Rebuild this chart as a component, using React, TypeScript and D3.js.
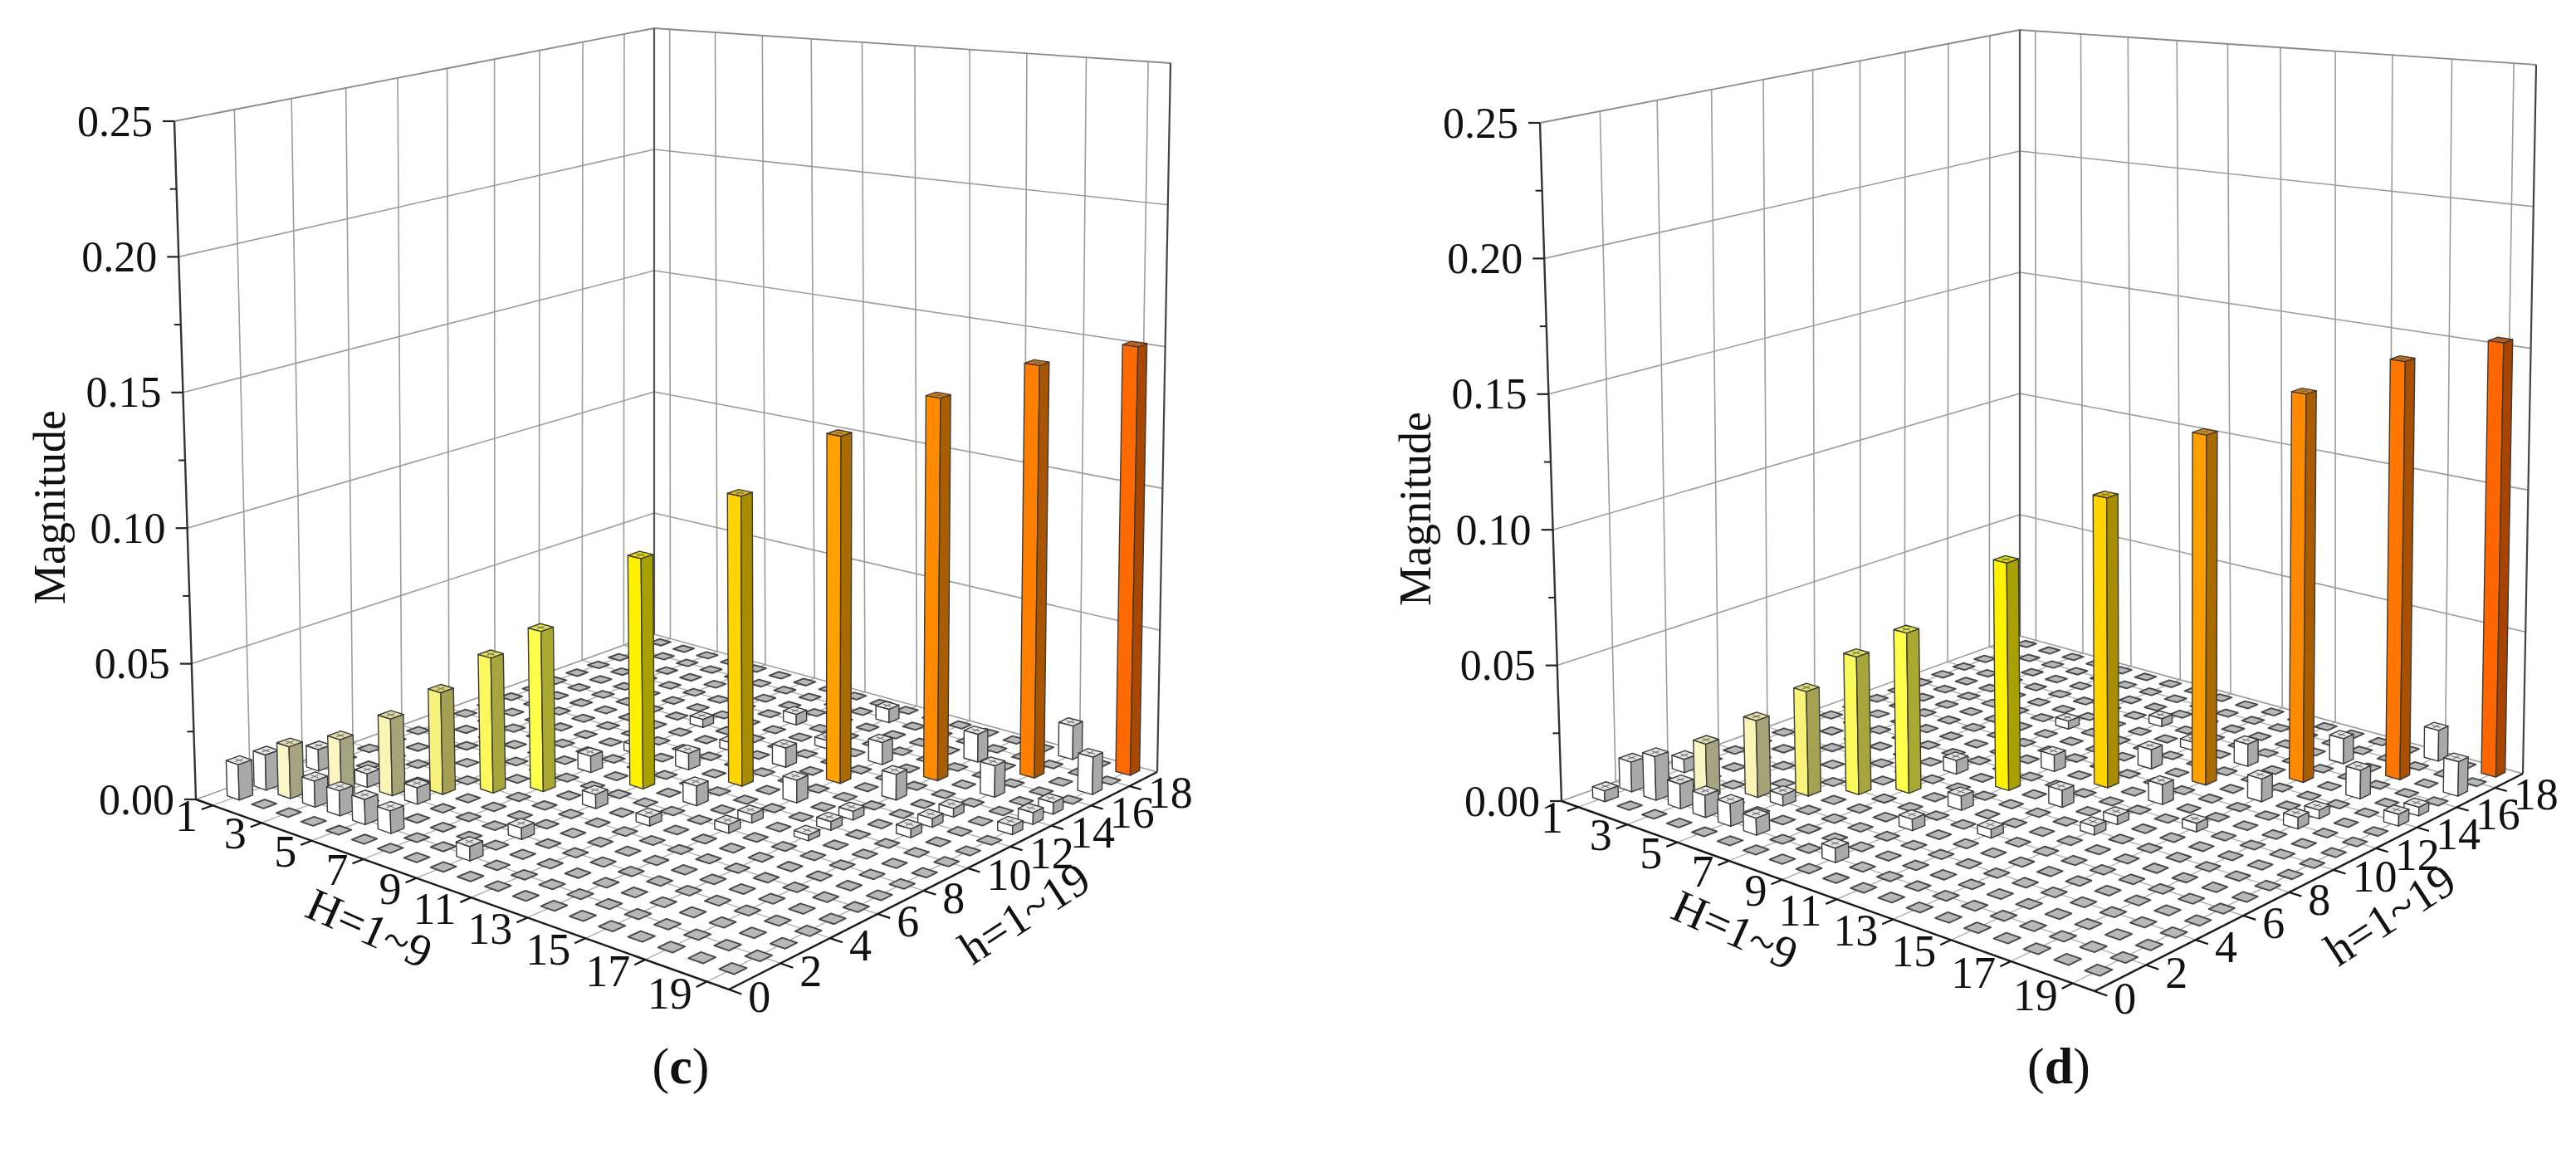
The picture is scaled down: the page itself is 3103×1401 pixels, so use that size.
import React from 'react';
import * as d3 from 'd3';

const WIDTH = 3103;
const HEIGHT = 1401;

// axis domains
const H_DOMAIN = [0.3, 19.7];
const h_DOMAIN = [0, 19.5];
const Z_DOMAIN = [0, 0.25];

const zMajor = [0, 0.05, 0.1, 0.15, 0.2, 0.25];
const zMinor = [0.025, 0.075, 0.125, 0.175, 0.225];
const HTicks = [1, 3, 5, 7, 9, 11, 13, 15, 17, 19];
const hTicks = [0, 2, 4, 6, 8, 10, 12, 14, 16, 18];
const hWallLines = [2, 4, 6, 8, 10, 12, 14, 16, 18];
const HCells = d3.range(1, 20);
const hCells = d3.range(1, 20);

// panel (c): diagonal bars
const cMainH = [1, 1, 2, 3, 4, 5, 6, 7, 9, 11, 13, 15, 17, 19];
const cMainh = [1, 2, 2, 3, 4, 5, 6, 7, 9, 11, 13, 15, 17, 19];
const cMainV = [0.013, 0.013, 0.019, 0.021, 0.028, 0.037, 0.049, 0.058, 0.083, 0.104, 0.124, 0.136, 0.146, 0.151];
// panel (c): small side bars
const cSmallH = [1, 3, 4, 5, 6, 5, 3, 9, 9, 7, 9, 11, 13, 15, 17, 9, 11, 13, 15, 17, 19, 9, 11, 9, 7, 11, 13, 15, 17, 19, 13, 15, 17, 19, 7, 11, 17, 19, 15];
const cSmallh = [4, 2, 2, 2, 2, 4, 4, 2, 4, 9, 11, 13, 15, 17, 19, 7, 9, 11, 13, 15, 17, 16, 18, 13, 11, 7, 9, 11, 13, 15, 8, 10, 12, 14, 14, 15, 11, 13, 9];
const cSmallV = [0.008, 0.0095, 0.009, 0.009, 0.008, 0.006, 0.005, 0.005, 0.004, 0.006, 0.006, 0.007, 0.008, 0.01, 0.012, 0.005, 0.007, 0.008, 0.009, 0.011, 0.013, 0.004, 0.005, 0.003, 0.003, 0.003, 0.003, 0.003, 0.003, 0.004, 0.003, 0.003, 0.003, 0.004, 0.003, 0.003, 0.003, 0.003, 0.002];

// panel (d): diagonal bars
const dMainH = [1, 1, 2, 3, 4, 5, 6, 7, 9, 11, 13, 15, 17, 19];
const dMainh = [1, 2, 2, 3, 4, 5, 6, 7, 9, 11, 13, 15, 17, 19];
const dMainV = [0.004, 0.011, 0.016, 0.02, 0.028, 0.038, 0.05, 0.058, 0.082, 0.104, 0.125, 0.138, 0.148, 0.153];
// panel (d): small side bars
const dSmallH = [1, 3, 4, 5, 6, 5, 9, 9, 7, 9, 11, 13, 15, 17, 9, 11, 13, 15, 17, 19, 9, 11, 13, 15, 17, 19, 13, 7, 11, 17, 19];
const dSmallh = [4, 2, 2, 2, 2, 4, 2, 5, 9, 11, 13, 15, 17, 19, 7, 9, 11, 13, 15, 17, 16, 6, 8, 10, 12, 14, 9, 14, 15, 13, 15];
const dSmallV = [0.005, 0.009, 0.008, 0.008, 0.006, 0.004, 0.005, 0.004, 0.005, 0.006, 0.007, 0.008, 0.009, 0.011, 0.005, 0.006, 0.007, 0.008, 0.01, 0.012, 0.003, 0.003, 0.003, 0.003, 0.004, 0.004, 0.003, 0.003, 0.003, 0.003, 0.003];

const colorStops = [0, 0.017, 0.018, 0.028, 0.037, 0.049, 0.058, 0.083, 0.104, 0.124, 0.136, 0.146, 0.152];
const colorRange = ['#ffffff', '#ffffff', '#faf6c8', '#faf5b4', '#f8f37e', '#fbf95e', '#ffff4c', '#fff200', '#ffd400', '#ffa200', '#ff8c00', '#ff8000', '#ff6600'];

// screen corners of the box for panel (c): floor L, F, R, B and the same at the top
const floorCorners = [[236, 963], [878, 1192], [1394, 930], [788, 764]];
const topCorners = [[210, 146], [874, 232], [1410, 76], [788, 34]];

const FONT = 'Liberation Serif, Times New Roman, serif';

function squareToQuad(q: number[][]) {
  const [x0, y0] = q[0];
  const [x1, y1] = q[1];
  const [x2, y2] = q[2];
  const [x3, y3] = q[3];
  const dx1 = x1 - x2, dx2 = x3 - x2, dx3 = x0 - x1 + x2 - x3;
  const dy1 = y1 - y2, dy2 = y3 - y2, dy3 = y0 - y1 + y2 - y3;
  const den = dx1 * dy2 - dx2 * dy1;
  const g = (dx3 * dy2 - dx2 * dy3) / den;
  const h = (dx1 * dy3 - dx3 * dy1) / den;
  const a = x1 - x0 + g * x1, b = x3 - x0 + h * x3, c = x0;
  const d = y1 - y0 + g * y1, e = y3 - y0 + h * y3, f = y0;
  return (u: number, v: number) => {
    const w = g * u + h * v + 1;
    return [(a * u + b * v + c) / w, (d * u + e * v + f) / w];
  };
}

interface PanelProps {
  mainH: number[];
  mainh: number[];
  mainV: number[];
  smallH: number[];
  smallh: number[];
  smallV: number[];
  dx: number;
  dy: number;
  letter: string;
  letterX: number;
}

const Panel = ({ mainH, mainh, mainV, smallH, smallh, smallV, dx, dy, letter, letterX }: PanelProps) => {
  const shift = (p: number[]) => [p[0] + dx, p[1] + dy];
  const floorQ = squareToQuad(floorCorners.map(shift));
  const topQ = squareToQuad(topCorners.map(shift));
  const u = d3.scaleLinear().domain(H_DOMAIN).range([0, 1]);
  const v = d3.scaleLinear().domain(h_DOMAIN).range([0, 1]);
  const t = d3.scaleLinear().domain(Z_DOMAIN).range([0, 1]);
  const color = d3.scaleLinear<string>().domain(colorStops).range(colorRange).clamp(true);

  const P = (H: number, h: number, z: number): [number, number] => {
    const a = floorQ(u(H), v(h));
    const b = topQ(u(H), v(h));
    const k = t(z);
    return [a[0] + (b[0] - a[0]) * k, a[1] + (b[1] - a[1]) * k];
  };
  const line = d3.line();
  const poly = (pts: [number, number][]) => line(pts) + 'Z';

  const [H0, H1] = H_DOMAIN;
  const [h0, h1] = h_DOMAIN;
  const zTop = Z_DOMAIN[1];

  // bar values on the grid
  const values = new Map<string, number>();
  mainH.forEach((H, i) => values.set(`${H},${mainh[i]}`, mainV[i]));
  smallH.forEach((H, i) => values.set(`${H},${smallh[i]}`, smallV[i]));

  const cells: { H: number; h: number; val: number }[] = [];
  HCells.forEach((H) => hCells.forEach((h) => cells.push({ H, h, val: values.get(`${H},${h}`) || 0 })));
  const flat = cells.filter((c) => c.val === 0);
  const raised = cells.filter((c) => c.val > 0).sort((a, b) => (a.H - a.h) - (b.H - b.h) || a.H - b.H);

  const wallColor = '#9c9c9c';
  const floorLine = '#b0b0b0';
  const w = 0.25;
  const wf = 0.24;

  const axisBottom = P(H0, h0, 0);

  return (
    <g>
      {/* left wall */}
      {hWallLines.map((h) => (
        <path key={`lw${h}`} d={line([P(H0, h, 0), P(H0, h, zTop)])!} stroke={wallColor} strokeWidth={1.6} fill="none" />
      ))}
      {zMajor.slice(1, -1).map((z) => (
        <path key={`lz${z}`} d={line([P(H0, h0, z), P(H0, h1, z)])!} stroke={wallColor} strokeWidth={1.6} fill="none" />
      ))}
      {/* right wall */}
      {HTicks.map((H) => (
        <path key={`rw${H}`} d={line([P(H, h1, 0), P(H, h1, zTop)])!} stroke={wallColor} strokeWidth={1.6} fill="none" />
      ))}
      {zMajor.slice(1, -1).map((z) => (
        <path key={`rz${z}`} d={line([P(H0, h1, z), P(H1, h1, z)])!} stroke={wallColor} strokeWidth={1.6} fill="none" />
      ))}
      {/* floor grid */}
      {HTicks.map((H) => (
        <path key={`fH${H}`} d={line([P(H, h0, 0), P(H, h1, 0)])!} stroke={floorLine} strokeWidth={1.4} fill="none" />
      ))}
      {hWallLines.map((h) => (
        <path key={`fh${h}`} d={line([P(H0, h, 0), P(H1, h, 0)])!} stroke={floorLine} strokeWidth={1.4} fill="none" />
      ))}
      {/* box edges */}
      <path d={line([P(H0, h0, zTop), P(H0, h1, zTop), P(H1, h1, zTop)])!} stroke="#8a8a8a" strokeWidth={1.8} fill="none" />
      <path d={line([P(H0, h0, 0), P(H0, h1, 0), P(H1, h1, 0)])!} stroke="#9a9a9a" strokeWidth={1.6} fill="none" />
      <path d={line([P(H0, h1, 0), P(H0, h1, zTop)])!} stroke="#555" strokeWidth={2.2} fill="none" />
      <path d={line([P(H1, h1, 0), P(H1, h1, zTop)])!} stroke="#444" strokeWidth={2.2} fill="none" />

      {/* flat bars */}
      {flat.map((c) => (
        <path
          key={`f${c.H}-${c.h}`}
          d={poly([P(c.H - wf, c.h - wf, 0), P(c.H + wf, c.h - wf, 0), P(c.H + wf, c.h + wf, 0), P(c.H - wf, c.h + wf, 0)])}
          fill="#b8b8b8"
          stroke="#484848"
          strokeWidth={1.9}
          strokeLinejoin="round"
        />
      ))}
      {/* raised bars, back to front */}
      {raised.map((c) => {
        const base = d3.color(color(c.val))!;
        const side = base.darker(1.15).formatHex();
        const top = base.darker(0.3).formatHex();
        const { H, h, val } = c;
        return (
          <g key={`b${H}-${h}`} stroke="#3a3a3a" strokeWidth={1.4} strokeLinejoin="round">
            <path d={poly([P(H - w, h - w, 0), P(H + w, h - w, 0), P(H + w, h - w, val), P(H - w, h - w, val)])} fill={base.formatHex()} />
            <path d={poly([P(H + w, h - w, 0), P(H + w, h + w, 0), P(H + w, h + w, val), P(H + w, h - w, val)])} fill={side} />
            <path d={poly([P(H - w, h - w, val), P(H + w, h - w, val), P(H + w, h + w, val), P(H - w, h + w, val)])} fill={top} />
            <path
              d={`${line([P(H - w * 0.6, h, val), P(H + w * 0.6, h, val)])}${line([P(H, h - w * 0.6, val), P(H, h + w * 0.6, val)])}`}
              stroke="#6a6a6a"
              strokeWidth={1}
              fill="none"
            />
          </g>
        );
      })}

      {/* axes */}
      <path d={line([P(H0, h0, 0), P(H0, h0, zTop)])!} stroke="#333" strokeWidth={2.4} fill="none" />
      <path d={line([P(H0, h0, 0), P(H1, h0, 0), P(H1, h1, 0)])!} stroke="#1a1a1a" strokeWidth={2.4} fill="none" />

      {/* z ticks and labels */}
      {zMajor.map((z) => {
        const [x, y] = P(H0, h0, z);
        return (
          <g key={`zt${z}`}>
            <line x1={x} y1={y} x2={x - 14} y2={y} stroke="#222" strokeWidth={2.2} />
            <text x={x - 26} y={y} textAnchor="end" dominantBaseline="central" fontSize={52} fontFamily={FONT} fill="#111">
              {z.toFixed(2)}
            </text>
          </g>
        );
      })}
      {zMinor.map((z) => {
        const [x, y] = P(H0, h0, z);
        return <line key={`zm${z}`} x1={x} y1={y} x2={x - 8} y2={y} stroke="#222" strokeWidth={2} />;
      })}

      {/* H ticks and labels */}
      {HTicks.map((H) => {
        const a = P(H, h0, 0);
        const b = P(H, h0 - 0.4, 0);
        return (
          <g key={`Ht${H}`}>
            <line x1={a[0]} y1={a[1]} x2={b[0]} y2={b[1]} stroke="#111" strokeWidth={2.2} />
            <text x={b[0] - 5} y={b[1] + 8} textAnchor="end" dominantBaseline="central" fontSize={54} fontFamily={FONT} fill="#111">
              {H}
            </text>
          </g>
        );
      })}
      {/* h ticks and labels */}
      {hTicks.map((h) => {
        const a = P(H1, h, 0);
        const b = P(H1 + 0.4, h, 0);
        return (
          <g key={`ht${h}`}>
            <line x1={a[0]} y1={a[1]} x2={b[0]} y2={b[1]} stroke="#111" strokeWidth={2.2} />
            <text x={b[0] + 8} y={b[1] + 4} textAnchor="start" dominantBaseline="central" fontSize={54} fontFamily={FONT} fill="#111">
              {h}
            </text>
          </g>
        );
      })}

      {/* axis titles */}
      <text
        transform={`translate(${axisBottom[0] - 176},${axisBottom[1] - 352}) rotate(-90)`}
        textAnchor="middle"
        dominantBaseline="central"
        fontSize={54}
        fontFamily={FONT}
        fill="#111"
      >
        Magnitude
      </text>
      <text
        transform={`translate(${445 + dx},${1118 + dy}) rotate(24)`}
        textAnchor="middle"
        dominantBaseline="central"
        fontSize={56}
        fontFamily={FONT}
        fill="#111"
      >
        H=1~9
      </text>
      <text
        transform={`translate(${1234 + dx},${1100 + dy}) rotate(-33)`}
        textAnchor="middle"
        dominantBaseline="central"
        fontSize={56}
        fontFamily={FONT}
        fill="#111"
      >
        h=1~19
      </text>
      <text x={letterX} y={1284} textAnchor="middle" dominantBaseline="central" fontSize={62} fontFamily={FONT} fill="#111">
        (<tspan fontWeight="bold">{letter}</tspan>)
      </text>
    </g>
  );
};

export default function App() {
  return (
    <svg
      width={WIDTH}
      height={HEIGHT}
      viewBox={`0 0 ${WIDTH} ${HEIGHT}`}
      style={{ position: 'absolute', left: 0, top: 0, background: '#fff' }}
    >
      <rect width={WIDTH} height={HEIGHT} fill="#fff" />
      <Panel
        mainH={cMainH}
        mainh={cMainh}
        mainV={cMainV}
        smallH={cSmallH}
        smallh={cSmallh}
        smallV={cSmallV}
        dx={0}
        dy={0}
        letter="c"
        letterX={820}
      />
      <Panel
        mainH={dMainH}
        mainh={dMainh}
        mainV={dMainV}
        smallH={dSmallH}
        smallh={dSmallh}
        smallV={dSmallV}
        dx={1645}
        dy={2}
        letter="d"
        letterX={2480}
      />
    </svg>
  );
}
